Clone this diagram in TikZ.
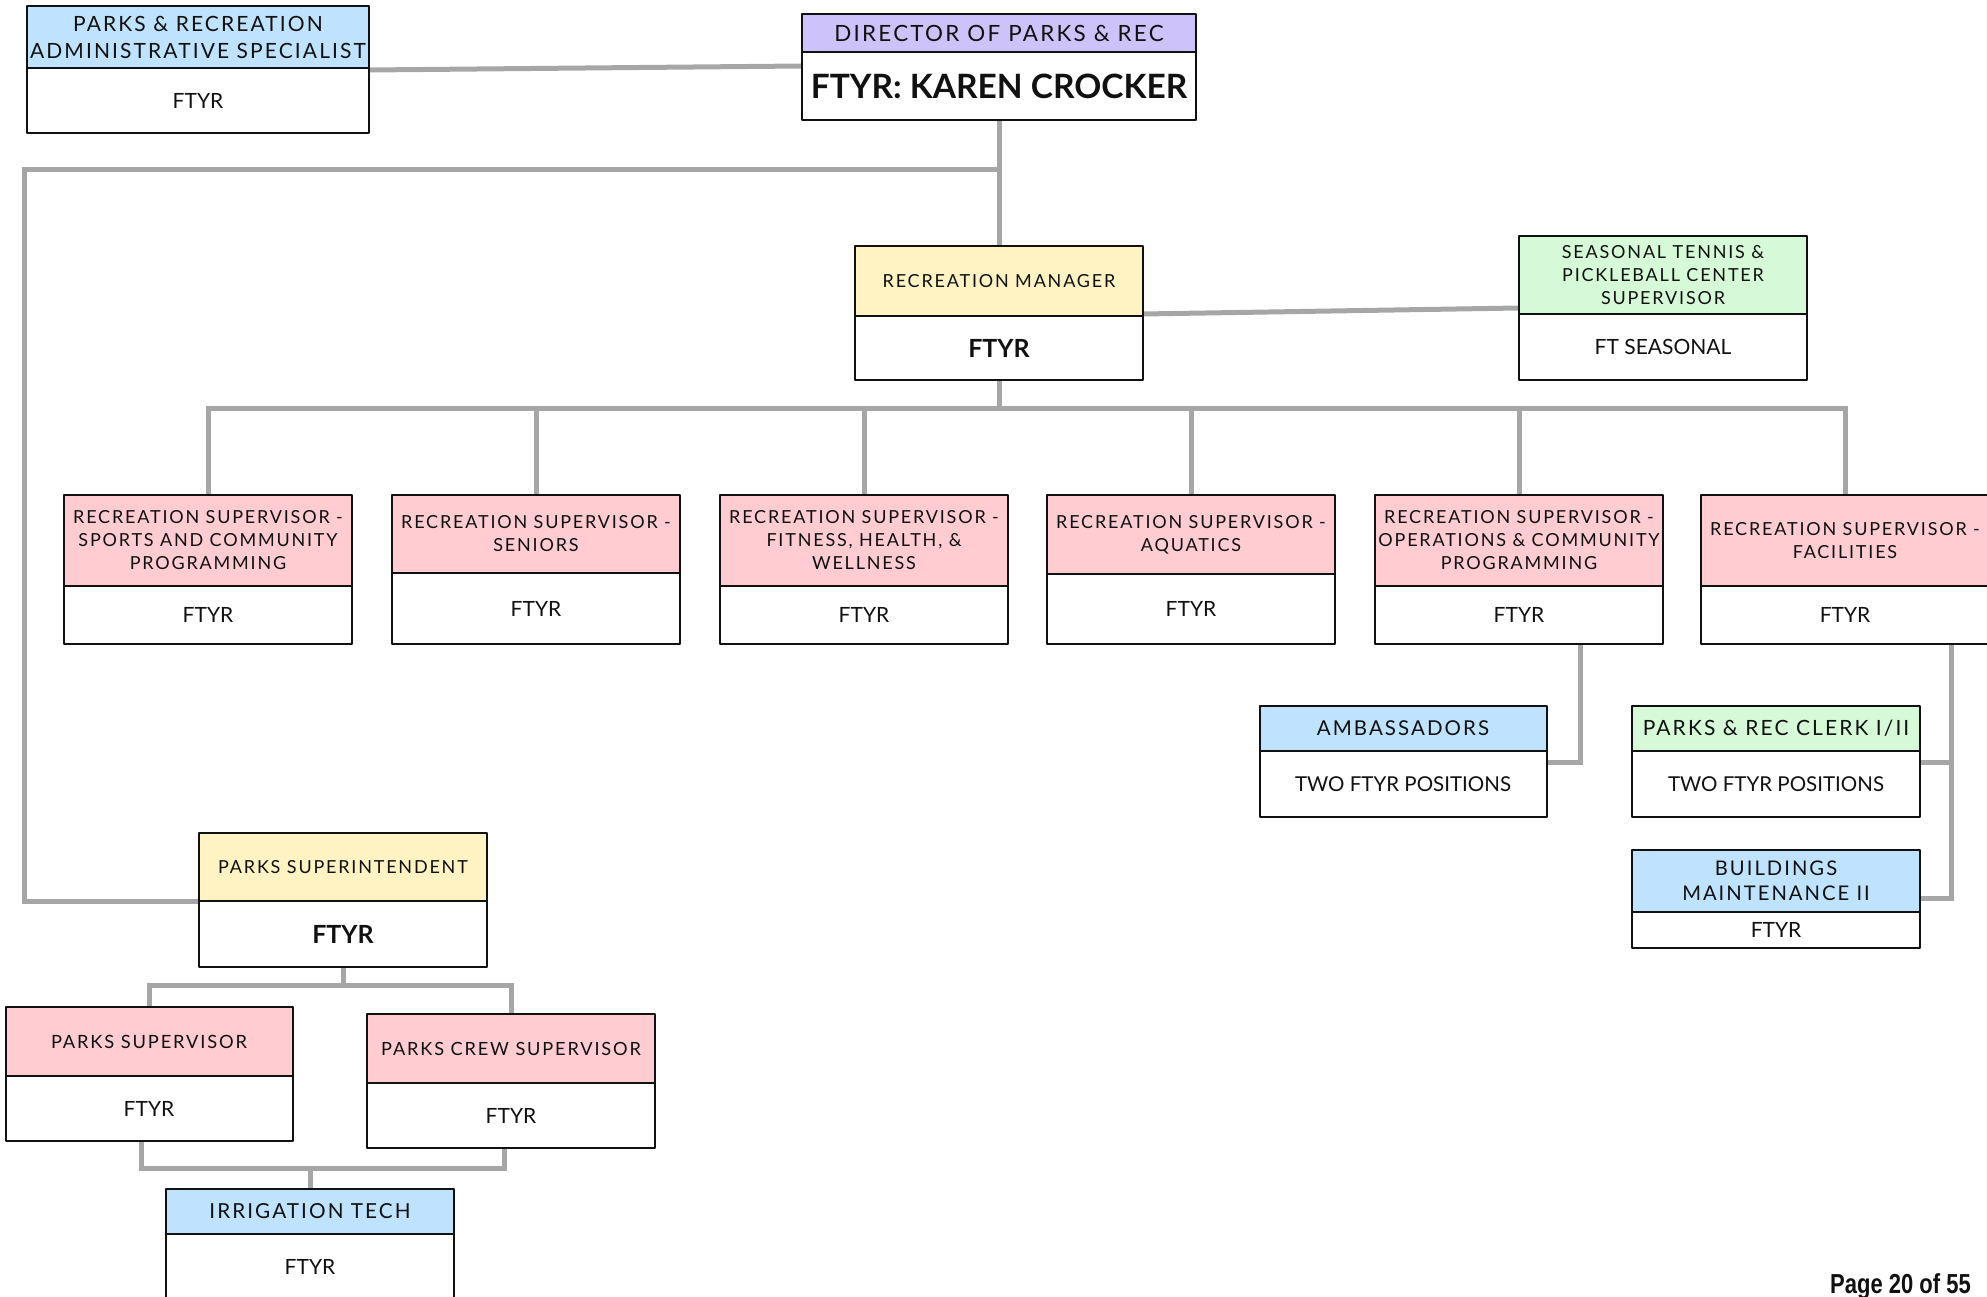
\documentclass[tikz,border=0pt]{standalone}
\usepackage{fontspec}
\setmainfont{Lato}
\newfontfamily\hdfont[LetterSpace=10]{Lato}
\newfontfamily\pgfont[FakeStretch=0.8]{Liberation Sans}
\usetikzlibrary{positioning,backgrounds}
\definecolor{ink}{RGB}{17,17,17}
\definecolor{wire}{RGB}{166,166,166}
\definecolor{skyhd}{RGB}{191,227,255}
\definecolor{lilachd}{RGB}{206,194,250}
\definecolor{butterhd}{RGB}{255,243,196}
\definecolor{minthd}{RGB}{214,250,216}
\definecolor{rosehd}{RGB}{255,204,210}

\begin{document}
\begin{tikzpicture}[x=1pt,y=-1pt,line cap=round,line join=round,
  hd/.style={draw=ink,line width=2pt,outer sep=0pt,inner sep=2pt,minimum width=288pt,
    align=center,anchor=north,text=ink,font=\hdfont\fontsize{18}{23}\selectfont},
  bd/.style={draw=ink,fill=white,line width=2pt,outer sep=0pt,inner sep=2pt,minimum width=288pt,
    align=center,text=ink,font=\fontsize{21}{25}\selectfont},
  bdbold/.style={bd,font=\bfseries\fontsize{25}{29}\selectfont},
  link/.style={draw=wire,line width=5pt,line cap=butt}]
\useasboundingbox (0,0) rectangle (1987,1297);
% top level
\node[hd,fill=skyhd,minimum width=342pt,minimum height=62pt,font=\hdfont\fontsize{21}{27}\selectfont]
  (admin) at (198,6) {PARKS \& RECREATION\\ADMINISTRATIVE SPECIALIST};
\node[bd,minimum width=342pt,minimum height=65pt,below=0pt of admin] (adminB) {FTYR};
\node[hd,fill=lilachd,minimum width=394pt,minimum height=38pt,font=\hdfont\fontsize{22.4}{25}\selectfont]
  (dir) at (999,14) {DIRECTOR OF PARKS \& REC};
\node[bd,minimum width=394pt,minimum height=68pt,below=0pt of dir,font=\bfseries\fontsize{33.5}{36}\selectfont]
  (dirB) {FTYR: KAREN CROCKER};
\node[hd,fill=butterhd,minimum height=70pt] (mgr) at (999,246) {RECREATION MANAGER};
\node[bdbold,minimum height=64pt,below=0pt of mgr] (mgrB) {FTYR};
\node[hd,fill=minthd,minimum height=78pt] (tennis) at (1663,236)
  {SEASONAL TENNIS \&\\PICKLEBALL CENTER\\SUPERVISOR};
\node[bd,minimum height=66pt,below=0pt of tennis] (tennisB) {FT SEASONAL};
% recreation supervisors
\node[hd,fill=rosehd,minimum height=91pt] (sports) at (208,495)
  {RECREATION SUPERVISOR -\\SPORTS AND COMMUNITY\\PROGRAMMING};
\node[bd,minimum height=58pt,below=0pt of sports] (sportsB) {FTYR};
\node[hd,fill=rosehd,minimum height=78pt] (seniors) at (536,495)
  {RECREATION SUPERVISOR -\\SENIORS};
\node[bd,minimum height=71pt,below=0pt of seniors] (seniorsB) {FTYR};
\node[hd,fill=rosehd,minimum height=91pt] (fitness) at (864,495)
  {RECREATION SUPERVISOR -\\FITNESS, HEALTH, \&\\WELLNESS};
\node[bd,minimum height=58pt,below=0pt of fitness] (fitnessB) {FTYR};
\node[hd,fill=rosehd,minimum height=79pt] (aquatics) at (1191,495)
  {RECREATION SUPERVISOR -\\AQUATICS};
\node[bd,minimum height=70pt,below=0pt of aquatics] (aquaticsB) {FTYR};
\node[hd,fill=rosehd,minimum height=91pt] (ops) at (1519,495)
  {RECREATION SUPERVISOR -\\OPERATIONS \& COMMUNITY\\PROGRAMMING};
\node[bd,minimum height=58pt,below=0pt of ops] (opsB) {FTYR};
\node[hd,fill=rosehd,minimum height=91pt] (facil) at (1845,495)
  {RECREATION SUPERVISOR -\\FACILITIES};
\node[bd,minimum height=58pt,below=0pt of facil] (facilB) {FTYR};
% under operations and facilities
\node[hd,fill=skyhd,minimum width=287pt,minimum height=45pt,font=\hdfont\fontsize{20.5}{25}\selectfont]
  (amb) at (1403,706) {AMBASSADORS};
\node[bd,minimum width=287pt,minimum height=66pt,below=0pt of amb,font=\fontsize{20.5}{25}\selectfont]
  (ambB) {TWO FTYR POSITIONS};
\node[hd,fill=minthd,minimum height=45pt,font=\hdfont\fontsize{21}{25}\selectfont]
  (clerk) at (1776,706) {PARKS \& REC CLERK I/II};
\node[bd,minimum height=66pt,below=0pt of clerk,font=\fontsize{20.5}{25}\selectfont]
  (clerkB) {TWO FTYR POSITIONS};
\node[hd,fill=skyhd,minimum height=62pt,font=\hdfont\fontsize{20.2}{25}\selectfont]
  (bldg) at (1776,850) {BUILDINGS\\MAINTENANCE II};
\node[bd,minimum height=36pt,below=0pt of bldg] (bldgB) {FTYR};
% parks side
\node[hd,fill=butterhd,minimum height=68pt] (supt) at (343,833) {PARKS SUPERINTENDENT};
\node[bdbold,minimum height=66pt,below=0pt of supt] (suptB) {FTYR};
\node[hd,fill=rosehd,minimum width=287pt,minimum height=69pt,font=\hdfont\fontsize{18.3}{23}\selectfont]
  (psup) at (149,1007) {PARKS SUPERVISOR};
\node[bd,minimum width=287pt,minimum height=65pt,below=0pt of psup] (psupB) {FTYR};
\node[hd,fill=rosehd,minimum height=69pt,font=\hdfont\fontsize{18.2}{23}\selectfont]
  (crew) at (511,1014) {PARKS CREW SUPERVISOR};
\node[bd,minimum height=65pt,below=0pt of crew] (crewB) {FTYR};
\node[hd,fill=skyhd,minimum height=45pt,font=\hdfont\fontsize{20.7}{25}\selectfont]
  (irr) at (310,1189) {IRRIGATION TECH};
\node[bd,minimum height=66pt,below=0pt of irr] (irrB) {FTYR};
\node[anchor=base east,inner sep=0pt,text=ink,font=\pgfont\bfseries\fontsize{27.5}{31}\selectfont]
  (page) at (1971,1293) {Page 20 of 55};
% connectors
\coordinate (spine) at (24,170);
\coordinate (bus) at (0,408);
\begin{scope}[on background layer]
\draw[link] ([yshift=-2pt]admin.south east) -- ([yshift=-14pt]dir.south west);
\draw[link] (dirB.south) -- (mgr.north);
\draw[link] (dirB.south) |- (spine) |- (supt.south west);
\draw[link] ([yshift=2pt]mgr.south east) -- ([yshift=6pt]tennis.south west);
\foreach \n in {sports,seniors,fitness,aquatics,ops,facil}
  \draw[link] (mgrB.south) -- (mgrB.south |- bus) -| (\n.north);
\draw[link] ([xshift=61pt]opsB.south) |- ([yshift=-11pt]ambB.north east);
\draw[link] ([xshift=106pt]facilB.south) |- ([yshift=-11pt]clerkB.north east);
\draw[link] ([xshift=106pt]facilB.south) |- ([yshift=14pt]bldg.south east);
\draw[link] (suptB.south) -- ++(0,18) -| (psup.north);
\draw[link] (suptB.south) -- ++(0,18) -| (crew.north);
\draw[link] ([xshift=-8pt]psupB.south) -- ++(0,27) -| ([xshift=-7pt]crewB.south);
\draw[link] (irr.north) -- ++(0,-21);
\end{scope}
\end{tikzpicture}
\end{document}
